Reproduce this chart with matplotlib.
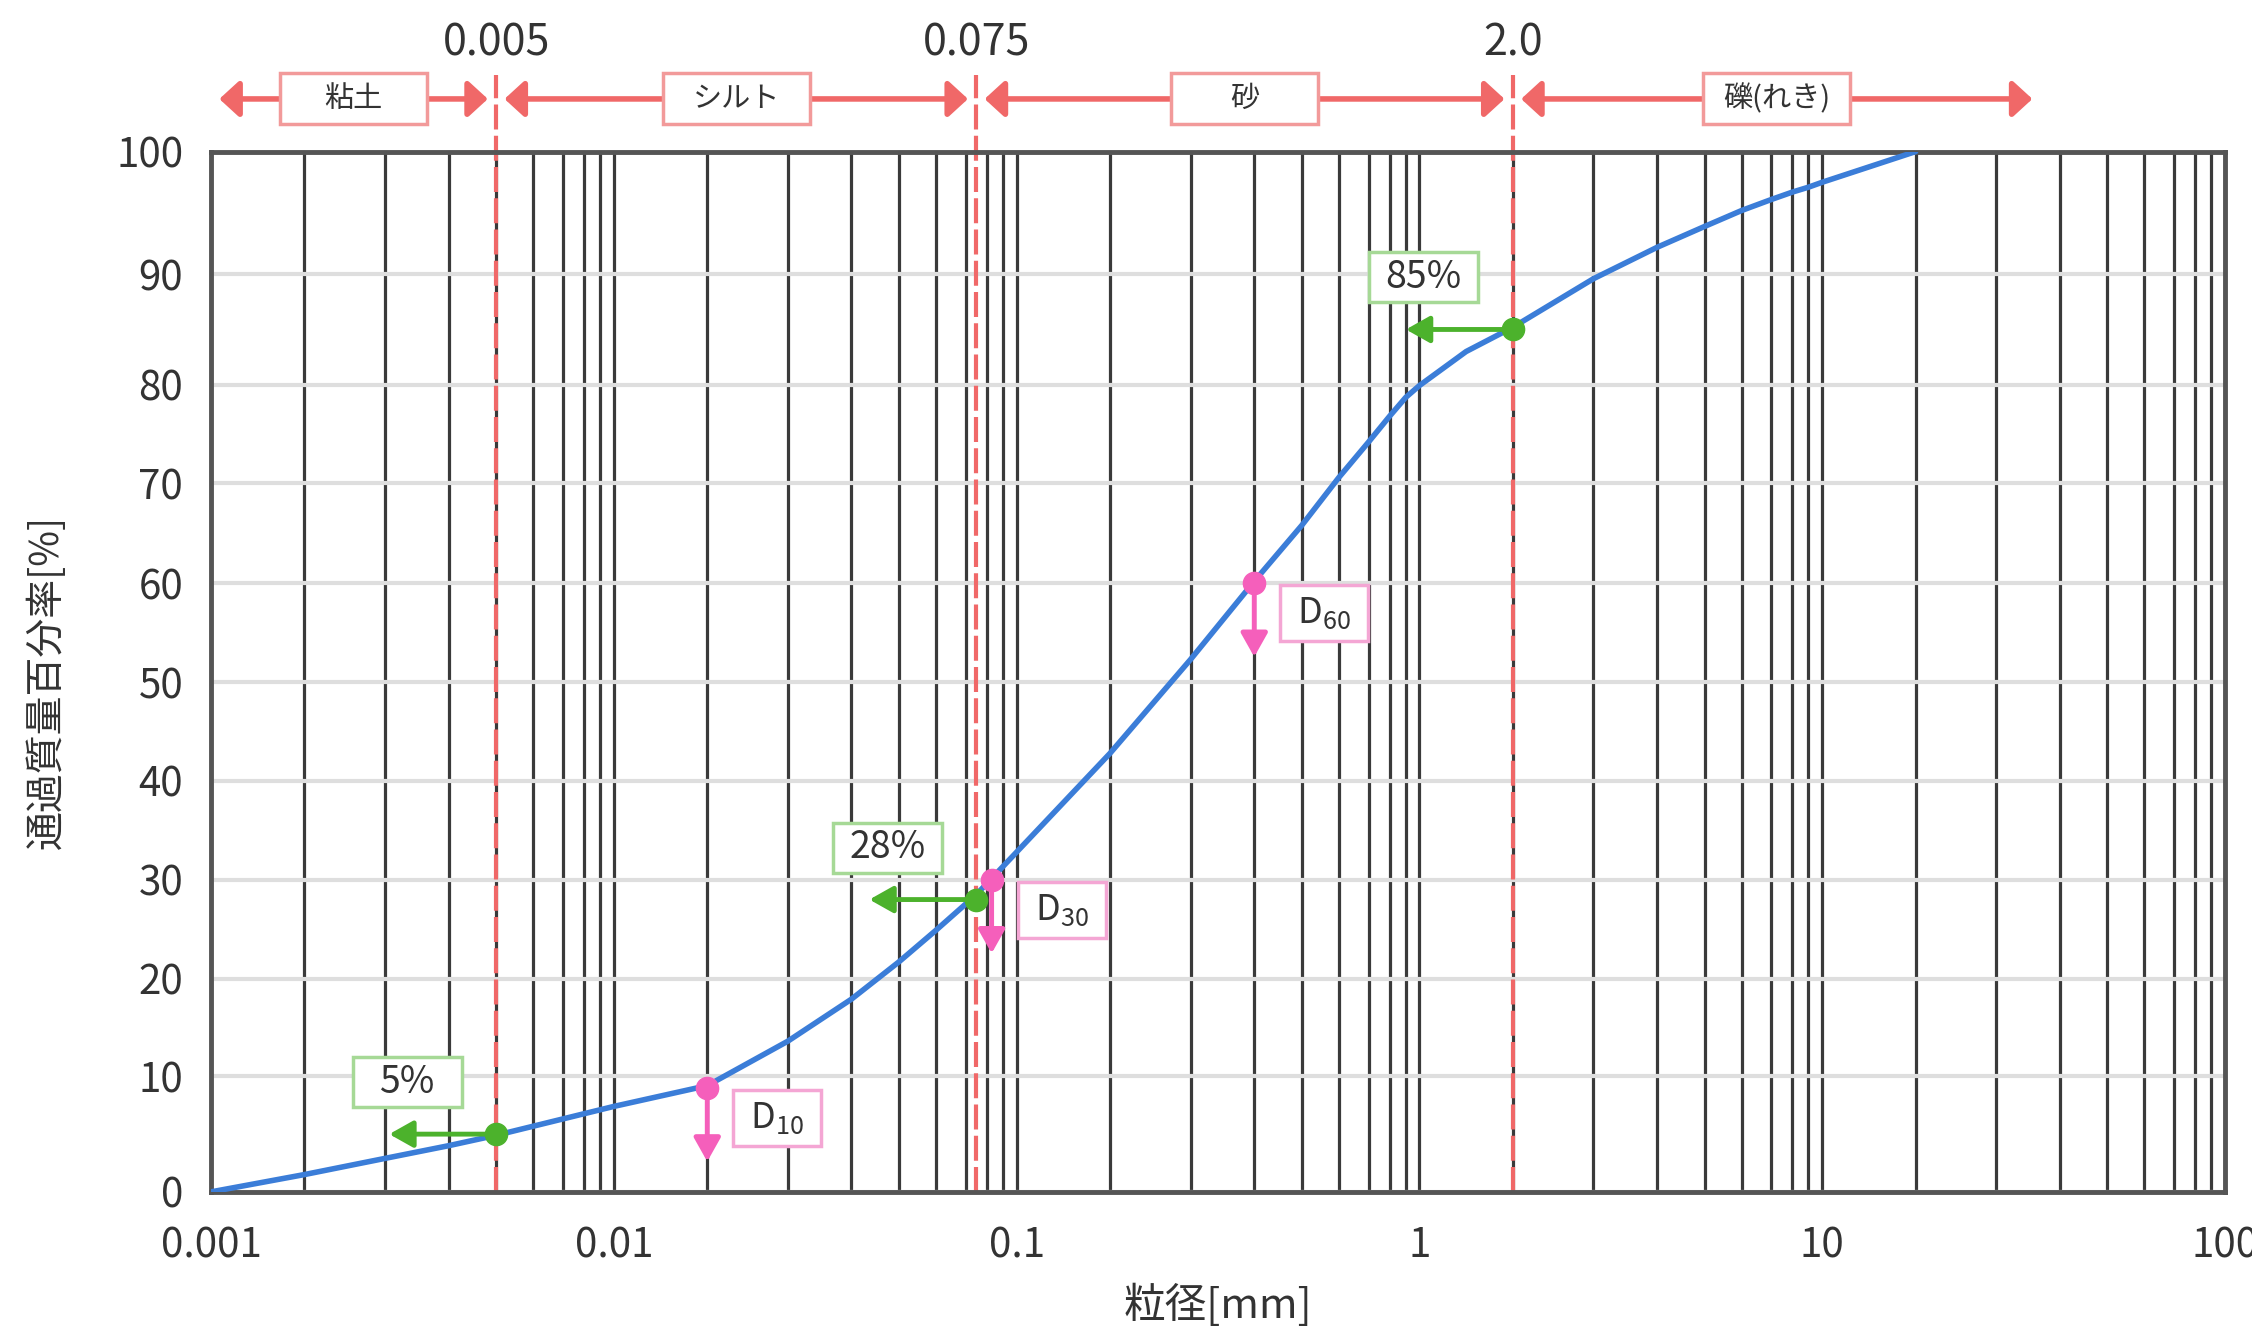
import numpy as np
import matplotlib.pyplot as plt
from matplotlib import transforms
from matplotlib.patches import Rectangle

plt.rcParams['font.family'] = ['Noto Sans CJK JP', 'DejaVu Sans']
plt.rcParams['mathtext.fontset'] = 'custom'
plt.rcParams['mathtext.rm'] = 'Noto Sans CJK JP'

# grading curve (grain size in mm, percent passing)
grain_size = [0.001, 0.002, 0.003, 0.004, 0.005, 0.01, 0.02, 0.03, 0.04, 0.05, 0.06,
              0.075, 0.1, 0.2, 0.3, 0.4, 0.5, 0.6, 0.7, 0.8, 0.9, 1, 1.5,
              2, 3, 4, 5, 6, 7, 8, 9, 10, 20]
passing = [0, 1.5, 2.9, 4.0, 4.9, 7.4, 9.2, 13.6, 17.9, 21.7, 24.9,
           28.5, 32.8, 42.8, 52.3, 60.2, 65.8, 70.6, 74.2, 76.8, 78.7, 79.9, 83.0,
           85.2, 89.6, 92.2, 93.9, 95.2, 96.1, 96.7, 97.1, 97.5, 100]

x_ticks = [0.001, 0.01, 0.1, 1, 10, 100]
x_tick_labels = ['0.001', '0.01', '0.1', '1', '10', '100']

boundaries = [0.005, 0.075, 2.0]
boundary_labels = ['0.005', '0.075', '2.0']
soil_names = ['粘土', 'シルト', '砂', '礫(れき)']
soil_ranges = [(0.001, 0.005), (0.005, 0.075), (0.075, 2.0), (2.0, 37)]

pct_x = [0.005, 0.075, 2.0]
pct_y = [5, 28, 85]
pct_labels = ['5%', '28%', '85%']

d_x = [0.02, 0.083, 0.4]
d_y = [9, 30, 60]
d_labels = ['10', '30', '60']

# the printed chart paper is not a true log / linear grid:
# where the 2..9 lines sit inside each decade, and where the 10% lines sit
decade_mant = [1, 2, 3, 4, 5, 6, 7, 8, 9, 10]
decade_frac = [0, 0.232, 0.432, 0.590, 0.708, 0.800, 0.874, 0.926, 0.966, 1.0]
y_grid = [0, 10, 20, 30, 40, 50, 60, 70, 80, 90, 100]
y_pos = [0, 11.1, 20.5, 30.0, 39.5, 49.0, 58.5, 68.1, 77.6, 88.2, 100]


def fwd_x(x):
    x = np.clip(np.asarray(x, dtype=float), 1e-12, None)
    d = np.floor(np.log10(x) + 1e-9)
    return d + np.interp(x / 10.0 ** d, decade_mant, decade_frac)


def inv_x(u):
    u = np.asarray(u, dtype=float)
    d = np.floor(u)
    return np.interp(u - d, decade_frac, decade_mant) * 10.0 ** d


def fwd_y(y):
    y = np.asarray(y, dtype=float)
    return np.where((y < 0) | (y > 100), y, np.interp(y, y_grid, y_pos))


def inv_y(v):
    v = np.asarray(v, dtype=float)
    return np.where((v < 0) | (v > 100), v, np.interp(v, y_pos, y_grid))


green = '#4cb22c'
pink = '#f55fbb'
red = '#f06868'
text_c = '#333333'

fig = plt.figure(figsize=(22.52, 13.32), dpi=100)
ax = fig.add_axes([0.0937, 0.1052, 0.8943, 0.7810])
ax.set_xscale('function', functions=(fwd_x, inv_x))
ax.set_yscale('function', functions=(fwd_y, inv_y))
ax.set_xlim(0.001, 100)
ax.set_ylim(0, 100)


def label_box(x, y, base, dx, dy, w, h, text, ec, size):
    # fixed size box (inches) centred dx, dy inches away from (x, y)
    tr = fig.dpi_scale_trans + transforms.ScaledTranslation(x, y, base)
    ax.add_artist(Rectangle((dx - w / 2, dy - h / 2), w, h, transform=tr, fc='white',
                            ec=ec, lw=2.5, zorder=6.5, clip_on=False))
    ax.text(dx, dy, text, transform=tr, ha='center', va='center', fontsize=size,
            color=text_c, zorder=7)


ax.set_xticks(x_ticks, x_tick_labels)
ax.set_xticks([m * 10.0 ** d for d in range(-3, 2) for m in range(2, 10)], minor=True)
ax.set_yticks(y_grid)
ax.tick_params(which='both', length=0, labelsize=29, colors=text_c)
ax.tick_params(axis='x', pad=24)
ax.tick_params(axis='y', pad=20)
ax.grid(axis='x', which='both', color='#3a3a3a', lw=2.3)
ax.grid(axis='y', which='major', color='#dedede', lw=3)
ax.set_axisbelow(True)
for s in ax.spines.values():
    s.set_color('#555555')
    s.set_linewidth(3.5)

ax.set_xlabel('粒径[mm]', fontsize=30, color=text_c)
ax.xaxis.label.set_va('center')
ax.xaxis.set_label_coords(0.5, -0.109)
ax.set_ylabel('通過質量百分率[%]', fontsize=28, color=text_c)
ax.yaxis.label.set_va('center')
ax.yaxis.set_label_coords(-0.0814, 0.49)

ax.plot(grain_size, passing, color='#3b7dd8', lw=4, solid_capstyle='round',
        solid_joinstyle='round', zorder=3)

xtr = ax.get_xaxis_transform()

# soil class boundaries
for b, lab in zip(boundaries, boundary_labels):
    ax.plot([b, b], [0, 1.074], transform=xtr, color=red, lw=3, dashes=(6, 1.5),
            clip_on=False, zorder=2.5)
    ax.text(b, 1.104, lab, transform=xtr, ha='center', va='center', fontsize=31,
            color=text_c)

# header arrows with class names
row_y = 1.0506
for (a, b), name in zip(soil_ranges, soil_names):
    ax.annotate('', xy=(b, row_y), xytext=(a, row_y), xycoords=xtr, textcoords=xtr,
                arrowprops=dict(arrowstyle='<|-|>,head_length=0.6,head_width=0.55',
                                color=red, lw=4, shrinkA=6, shrinkB=6, mutation_scale=20),
                annotation_clip=False)
    mid = float(inv_x((fwd_x(a) + fwd_x(b)) / 2))
    label_box(mid, row_y, xtr, 0, 0, 1.47, 0.51, name, '#f29a9a', 21)

# passing percentage at the boundaries
for x, y, lab in zip(pct_x, pct_y, pct_labels):
    left = transforms.offset_copy(ax.transData, fig=fig, x=-77, y=0, units='points')
    ax.annotate('', xy=(x, y), xycoords=left, xytext=(x, y), textcoords='data',
                arrowprops=dict(arrowstyle='-|>,head_length=0.8,head_width=0.45',
                                color=green, lw=3.5, shrinkA=0, shrinkB=0,
                                mutation_scale=18), zorder=5)
    ax.plot(x, y, 'o', ms=16, color=green, zorder=6)
    label_box(x, y, ax.transData, -0.89, 0.52, 1.09, 0.50, lab, '#a6d996', 27)

# effective grain sizes
for x, y, sub in zip(d_x, d_y, d_labels):
    down = transforms.offset_copy(ax.transData, fig=fig, x=0, y=-53, units='points')
    ax.annotate('', xy=(x, y), xycoords=down, xytext=(x, y), textcoords='data',
                arrowprops=dict(arrowstyle='-|>,head_length=0.8,head_width=0.45',
                                color=pink, lw=3.5, shrinkA=0, shrinkB=0,
                                mutation_scale=18), zorder=5)
    ax.plot(x, y, 'o', ms=16, color=pink, zorder=6)
    label_box(x, y, ax.transData, 0.70, -0.30, 0.88, 0.56, 'D$_{%s}$' % sub, '#f4a6d4', 26)

fig.savefig('out.png', dpi=100, facecolor='white')
